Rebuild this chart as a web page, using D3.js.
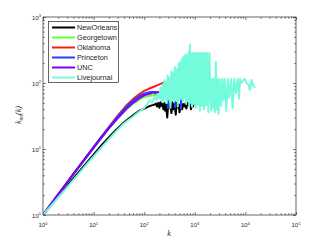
<!DOCTYPE html>
<html><head><meta charset="utf-8">
<script src="https://cdn.jsdelivr.net/npm/d3@7"></script>
<style>body{margin:0;background:#fff}svg{display:block}</style>
</head><body><svg id="c" width="327" height="242"></svg>
<script>
// ---------- data ----------
const seriesNames = ["NewOrleans","Georgetown","Oklahoma","Princeton","UNC","Livejournal"];
const seriesColors = ["#000000","#66ff33","#ff1a1a","#2040ff","#8000ff","#74fbdc"];

const newOrleansK   = [1,2,4,8,15,25,40,60,80,100,130,160,170,180,190,200,210,220,230,240,250,260,270,285,300,315,330,345,360,380,400,420,440,460,480,500,530,560,590,620,650,680,720,760,800,840,880,920,950];
const newOrleansKnn = [1,1.9,3.6,6.7,11.8,18,25.5,32.5,38,41,45,47,49,44,50,42,51,45,48,40,50,38,47,30,50,42,48,35,51,40,49,33,50,43,47,36,50,40,48,44,49,41,50,46,50,40,50,44,48];

const georgetownK   = [1,2,4,7,12,20,30,45,60,80,100,130,160,200,240,260,280,300,330,360,390];
const georgetownKnn = [1,2.05,4.15,7.3,12.4,20.3,29,40,48,56,61,64,66,65,63,66,55,64,53,62,58];

const oklahomaK   = [1,2,4,7,12,20,30,45,60,80,100,120,150,180,210,250,280,300,330,345,370,400,420];
const oklahomaKnn = [1,2.05,4.2,7.5,13,21.5,32,46,57,68,76,81,87,92,97,102,100,null,104,101,null,97,95];

const princetonK   = [1,2,4,7,12,20,30,45,60,80,100,120,140,160,200,250,290,295,300,360,400,406,412,480,530,535,540,600];
const princetonKnn = [1,2.05,4.2,7.4,12.8,21,31,44,54,63,69,72,73,73,72,73,72,42,72,74,72,43,73,72,70,41,70,70];

const uncK   = [1,2,4,7,12,20,30,45,60,80,100,120,140,150,165,180,200,220,240,260,280,300,320,340,360,380,400,420,440,460,490,520,550,580,610,640,680,720,760];
const uncKnn = [1,2.05,4.15,7.3,12.5,20.5,29.5,41,50,59,65,68,70,72,70,73,71,74,71,75,72,76,73,78,75,82,86,80,77,74,76,72,75,71,73,70,72,70,71];

const livejournalK   = [1,2,4,8,15,25,40,60,80,100,115,130,145,160,175,190,200,
  210,220,230,240,250,260,270,280,290,300,315,330,345,360,375,390,405,420,440,460,480,500,
  520,540,560,580,600,625,650,675,700,725,750,775,800,810,
  840,880,920,960,1000,1050,1100,1150,1200,1260,1320,1380,1450,1520,1600,1680,1760,1850,1950,2000,
  2100,2200,2300,2400,2500,2600,2700,2800,2950,3100,3300,3500,3700,3900,4200,4500,4800,5200,5600,6000,6500,7000,7500,7800,
  8300,9000,9800,10500,11500,12300,13200,14500,15500];
const livejournalKnn = [1,1.85,3.4,6.4,11,17,24.5,31,37,42,48,55,50,62,55,68,58,
  85,55,95,52,110,58,100,50,130,56,120,42,150,57,140,52,175,55,160,44,200,56,
  210,58,235,52,250,60,270,48,260,55,290,45,380,50,
  285,44,285,48,285,42,285,47,285,38,285,45,285,40,285,46,285,36,285,115,
  38,115,42,115,36,210,40,115,34,115,45,115,55,115,38,115,60,115,42,115,70,115,58,115,
  100,110,115,100,95,78,112,90,84];

const xTickValues = [1,10,100,1000,10000,100000];
const xTickExps = ["0","1","2","3","4","5"];
const yTickValues = [1,10,100,1000];
const yTickExps = ["0","1","2","3"];

// ---------- drawing ----------
const svg = d3.select("#c");
const L=43,R=296,T=17,B=215;
const x = d3.scaleLog().domain([1,1e5]).range([L,R]);
const y = d3.scaleLog().domain([1,1000]).range([B,T]);
const axisColor="#262626";

svg.append("defs").append("clipPath").attr("id","clip")
  .append("rect").attr("x",L).attr("y",T).attr("width",R-L).attr("height",B-T);

const minorX=[],minorY=[];
for(let d=1;d<1e5;d*=10) for(let m=2;m<=9;m++) minorX.push(d*m);
for(let d=1;d<1000;d*=10) for(let m=2;m<=9;m++) minorY.push(d*m);

function styleAxis(g){g.select(".domain").remove();g.selectAll("line").attr("stroke",axisColor).attr("stroke-width",0.6);g.selectAll("text").remove();}
svg.append("g").attr("transform",`translate(0,${B})`).call(d3.axisBottom(x).tickValues(xTickValues).tickSize(-3)).call(styleAxis);
svg.append("g").attr("transform",`translate(0,${B})`).call(d3.axisBottom(x).tickValues(minorX).tickSize(-1.8)).call(styleAxis);
svg.append("g").attr("transform",`translate(0,${T})`).call(d3.axisTop(x).tickValues(xTickValues).tickSize(-3)).call(styleAxis);
svg.append("g").attr("transform",`translate(0,${T})`).call(d3.axisTop(x).tickValues(minorX).tickSize(-1.8)).call(styleAxis);
svg.append("g").attr("transform",`translate(${L},0)`).call(d3.axisLeft(y).tickValues(yTickValues).tickSize(-3)).call(styleAxis);
svg.append("g").attr("transform",`translate(${L},0)`).call(d3.axisLeft(y).tickValues(minorY).tickSize(-1.8)).call(styleAxis);
svg.append("g").attr("transform",`translate(${R},0)`).call(d3.axisRight(y).tickValues(yTickValues).tickSize(-3)).call(styleAxis);
svg.append("g").attr("transform",`translate(${R},0)`).call(d3.axisRight(y).tickValues(minorY).tickSize(-1.8)).call(styleAxis);

// data lines
const data = [
  [newOrleansK,newOrleansKnn],[georgetownK,georgetownKnn],[oklahomaK,oklahomaKnn],
  [princetonK,princetonKnn],[uncK,uncKnn],[livejournalK,livejournalKnn]];
const line = d3.line().defined(d=>d[1]!=null).x(d=>x(d[0])).y(d=>y(d[1]));
const plot = svg.append("g").attr("clip-path","url(#clip)");
data.forEach((s,i)=>{
  const pts = s[0].map((k,j)=>[k,s[1][j]]);
  plot.append("path").datum(pts).attr("d",line).attr("fill","none")
    .attr("stroke",seriesColors[i]).attr("stroke-width",2).attr("stroke-linejoin","round");
});

// frame
svg.append("rect").attr("x",L).attr("y",T).attr("width",R-L).attr("height",B-T)
  .attr("fill","none").attr("stroke",axisColor).attr("stroke-width",0.7);

// tick labels
const font="Liberation Sans, Arial, Helvetica, sans-serif";
xTickValues.forEach((v,i)=>{
  const t=svg.append("text").attr("x",x(v)).attr("y",227).attr("text-anchor","middle")
    .attr("font-family",font).attr("font-size",6).attr("fill",axisColor);
  t.append("tspan").text("10");
  t.append("tspan").attr("font-size",4).attr("dy",-2.5).text(xTickExps[i]);
});
yTickValues.forEach((v,i)=>{
  const t=svg.append("text").attr("x",41).attr("y",y(v)+2.5).attr("text-anchor","end")
    .attr("font-family",font).attr("font-size",6).attr("fill",axisColor);
  t.append("tspan").text("10");
  t.append("tspan").attr("font-size",4).attr("dy",-2.5).text(yTickExps[i]);
});

// axis labels
svg.append("text").attr("x",169).attr("y",236).attr("text-anchor","middle")
  .attr("font-family","Liberation Serif, Times New Roman, serif").attr("font-style","italic")
  .attr("font-size",8).attr("fill",axisColor).text("k");
const yl=svg.append("text").attr("transform","translate(21,115) rotate(-90)").attr("text-anchor","middle")
  .attr("font-family","Liberation Serif, Times New Roman, serif").attr("font-style","italic")
  .attr("font-size",8).attr("fill",axisColor);
yl.append("tspan").text("k");
yl.append("tspan").attr("font-size",5.5).attr("dy",1.8).text("nn");
yl.append("tspan").attr("dy",-1.8).text("(k)");

// legend
const lg=svg.append("g");
lg.append("rect").attr("x",48.5).attr("y",21.5).attr("width",70).attr("height",61)
  .attr("fill","#fff").attr("stroke",axisColor).attr("stroke-width",0.7);
seriesNames.forEach((n,i)=>{
  const yy=27.5+10*i;
  lg.append("line").attr("x1",52).attr("x2",75).attr("y1",yy).attr("y2",yy)
    .attr("stroke",seriesColors[i]).attr("stroke-width",2);
  lg.append("text").attr("x",77).attr("y",yy+2.6).attr("font-family",font)
    .attr("font-size",7.3).attr("fill",axisColor).text(n);
});
</script></body></html>
